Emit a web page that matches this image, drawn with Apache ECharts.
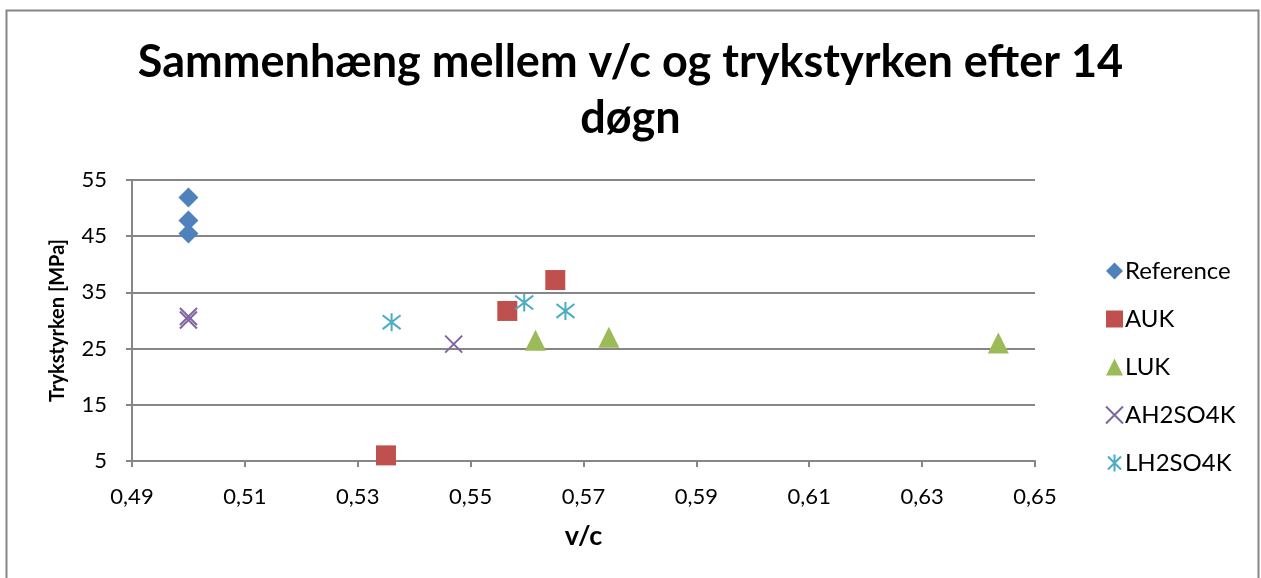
<!DOCTYPE html>
<html>
<head>
<meta charset="utf-8">
<script src="https://cdn.jsdelivr.net/npm/echarts@6/dist/echarts.min.js"></script>
<style>
html,body{margin:0;padding:0;background:#fff;}
#c{width:1261px;height:578px;}
</style>
</head>
<body>
<div id="c"></div>
<script>
const titleText = 'Sammenhæng mellem v/c og trykstyrken efter 14\ndøgn';
const xName = 'v/c';
const yName = 'Trykstyrken [MPa]';
const xTicks = [0.49, 0.51, 0.53, 0.55, 0.57, 0.59, 0.61, 0.63, 0.65];
const yTicks = [5, 15, 25, 35, 45, 55];

const seriesNames = ['Reference', 'AUK', 'LUK', 'AH2SO4K', 'LH2SO4K'];
const referenceX = [0.500, 0.500, 0.500];
const referenceY = [51.9, 47.8, 45.5];
const aukX = [0.535, 0.5565, 0.565];
const aukY = [6.0, 31.7, 37.2];
const lukX = [0.5615, 0.5745, 0.6435];
const lukY = [26.5, 27.0, 26.0];
const ah2so4kX = [0.500, 0.500, 0.547];
const ah2so4kY = [30.1, 30.7, 25.8];
const lh2so4kX = [0.536, 0.5595, 0.5668];
const lh2so4kY = [29.7, 33.2, 31.7];

function pairs(xs, ys) { return xs.map((x, i) => [x, ys[i]]); }

const FONT = 'Lato';
const gray = '#868686';

const chart = echarts.init(document.getElementById('c'), null, {renderer: 'canvas'});

const xPath = 'path://M0,0L10,10M10,0L0,10';
const starPath = 'path://M0,0L10,10M10,0L0,10M5,-1.5L5,11.5';

const option = {
  backgroundColor: '#fff',
  animation: false,
  title: {
    text: titleText,
    left: 'center',
    top: 29,
    textStyle: {fontFamily: FONT, fontWeight: 'bold', fontSize: 45, lineHeight: 56, color: '#000'}
  },
  graphic: [{
    type: 'rect',
    shape: {x: 6.5, y: 10.5, width: 1252, height: 620},
    style: {fill: 'none', stroke: gray, lineWidth: 2},
    silent: true
  }],
  grid: {left: 132, top: 180, width: 903, height: 281, containLabel: false},
  legend: {
    orient: 'vertical',
    left: 1100,
    top: 254,
    itemGap: 24,
    itemWidth: 17,
    itemHeight: 17,
    textStyle: {fontFamily: FONT, fontSize: 24, color: '#000', padding: [0, 0, 0, -3]},
    data: seriesNames
  },
  xAxis: {
    type: 'value',
    min: 0.49, max: 0.65,
    name: xName,
    nameLocation: 'middle',
    nameGap: 62,
    nameTextStyle: {fontFamily: FONT, fontWeight: 'bold', fontSize: 27, color: '#000'},
    axisLine: {show: true, lineStyle: {color: gray, width: 2}},
    axisTick: {show: true, length: 6, lineStyle: {color: gray, width: 2}, customValues: xTicks},
    axisLabel: {customValues: xTicks, margin: 25, fontFamily: FONT, fontSize: 22, color: '#000',
      formatter: v => v.toFixed(2).replace('.', ',')},
    splitLine: {show: false}
  },
  yAxis: {
    type: 'value',
    min: 5, max: 55,
    name: yName,
    nameLocation: 'middle',
    nameRotate: 90,
    nameGap: 64,
    nameTextStyle: {fontFamily: FONT, fontWeight: 'bold', fontSize: 20, color: '#000'},
    axisLine: {show: true, lineStyle: {color: gray, width: 2}},
    axisTick: {show: true, length: 6, lineStyle: {color: gray, width: 2}, customValues: yTicks},
    axisLabel: {customValues: yTicks, margin: 25, fontFamily: FONT, fontSize: 22, color: '#000'},
    splitLine: {show: true, lineStyle: {color: gray, width: 2}}
  },
  series: [
    {name: 'Reference', type: 'scatter', data: pairs(referenceX, referenceY),
      symbol: 'diamond', symbolSize: 20, itemStyle: {color: '#4F81BD', opacity: 1}},
    {name: 'AUK', type: 'scatter', data: pairs(aukX, aukY),
      symbol: 'rect', symbolSize: 20, itemStyle: {color: '#C0504D', opacity: 1}},
    {name: 'LUK', type: 'scatter', data: pairs(lukX, lukY),
      symbol: 'triangle', symbolSize: 21, itemStyle: {color: '#9BBB59', opacity: 1}},
    {name: 'AH2SO4K', type: 'scatter', data: pairs(ah2so4kX, ah2so4kY),
      symbol: xPath, symbolSize: 17, itemStyle: {color: 'rgba(0,0,0,0)', borderColor: '#8064A2', borderWidth: 2, opacity: 1}},
    {name: 'LH2SO4K', type: 'scatter', data: pairs(lh2so4kX, lh2so4kY),
      symbol: starPath, symbolSize: 18, itemStyle: {color: 'rgba(0,0,0,0)', borderColor: '#4BACC6', borderWidth: 2, opacity: 1}}
  ]
};
chart.setOption(option);
</script>
</body>
</html>
